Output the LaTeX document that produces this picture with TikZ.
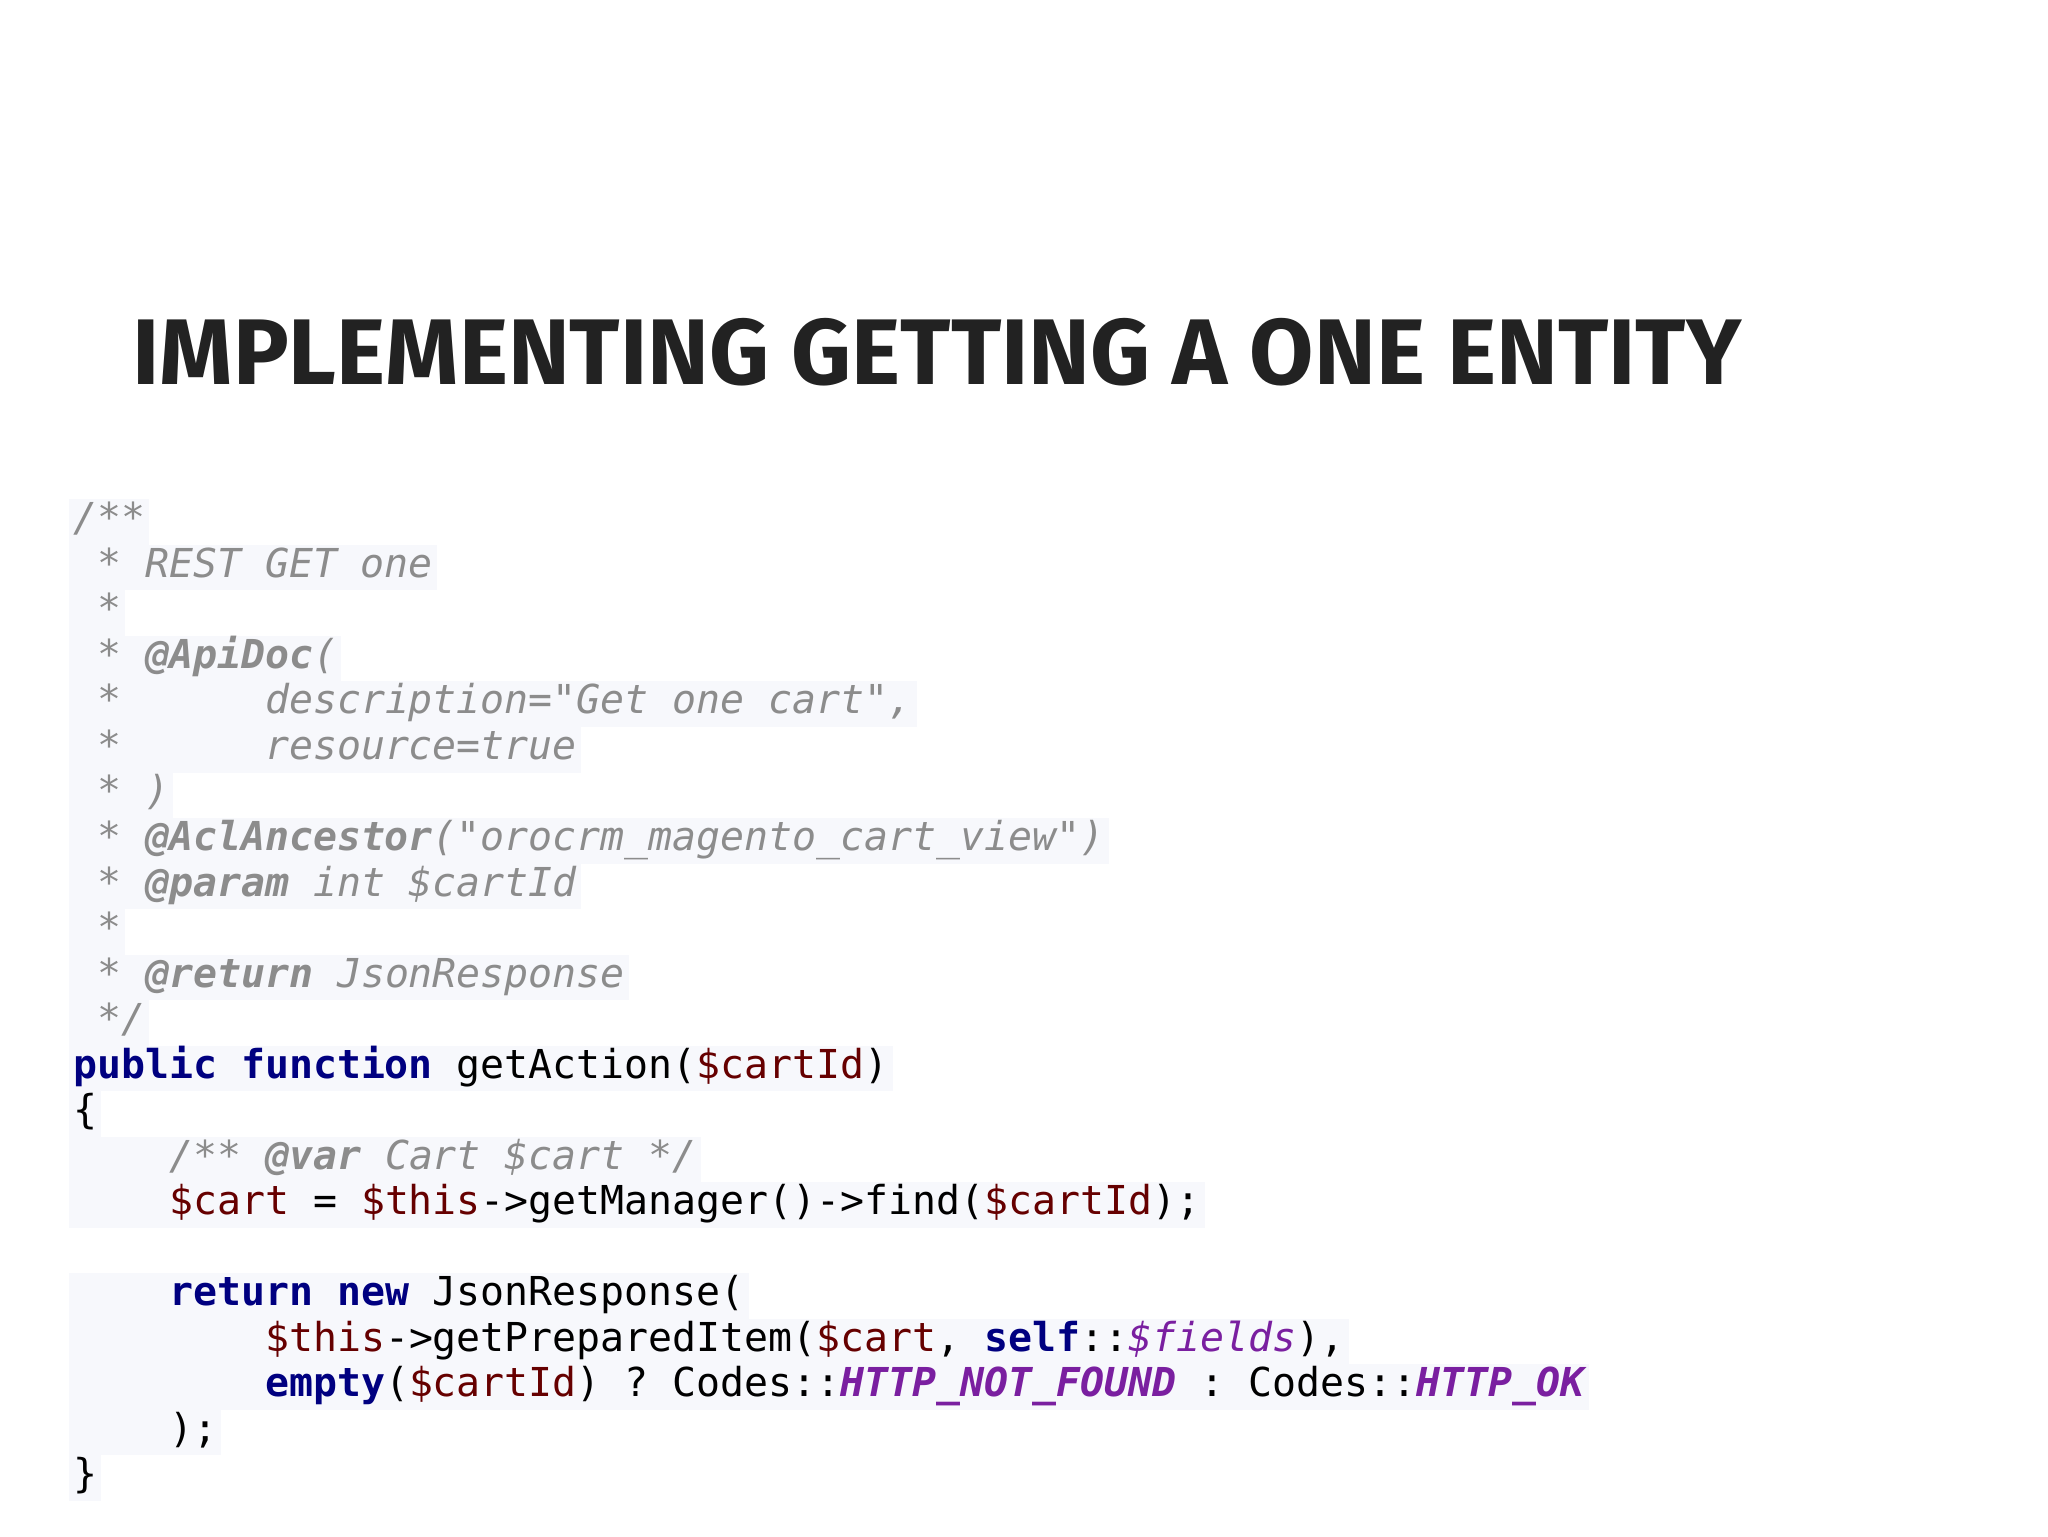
\documentclass[tikz,border=0pt]{standalone}
\usepackage{fontspec}
\setmonofont{DejaVu Sans Mono}
\newfontfamily\titlefont{Fira Sans}
\usetikzlibrary{positioning}
\definecolor{codebg}{HTML}{F7F8FC}
\definecolor{cmt}{HTML}{8C8C8C}
\definecolor{kw}{HTML}{000080}
\definecolor{var}{HTML}{660000}
\definecolor{cst}{HTML}{7A1FA0}
\definecolor{ttl}{HTML}{222222}
\newcommand\Cm[1]{\textcolor{cmt}{\itshape #1}}
\newcommand\Ct[1]{\textcolor{cmt}{\bfseries\itshape #1}}
\newcommand\Kw[1]{\textcolor{kw}{\bfseries #1}}
\newcommand\Vr[1]{\textcolor{var}{#1}}
\newcommand\Cs[1]{\textcolor{cst}{\bfseries\itshape #1}}
\newcommand\Fi[1]{\textcolor{cst}{\itshape #1}}
\newcommand\Sp[1]{\phantom{#1}}
\begin{document}
\begin{tikzpicture}[x=0.5pt,y=-0.5pt,
  codeline/.style={anchor=base west,fill=codebg,inner xsep=1.5pt,inner ysep=0pt,
    text height=12.3pt,text depth=4.95pt,font=\ttfamily\fontsize{15.1pt}{17pt}\selectfont}]
\useasboundingbox[fill=white] (0,0) rectangle (1552,1164);
\node[anchor=base west,inner sep=0pt,text=ttl] (title) at (100,291)
  {\resizebox{609.5pt}{!}{\titlefont\bfseries IMPLEMENTING GETTING A ONE ENTITY}};
\def\p{34.5}
\def\b{403}
\node[codeline] (l1) at (52,\b) {\Cm{/**}\hspace{3pt}};
\node[codeline] (l2) at (52,\b+\p) {\Cm{\Sp{x}* REST GET one}\hspace{3pt}};
\node[codeline] (l3) at (52,\b+2*\p) {\Cm{\Sp{x}*}\hspace{3pt}};
\node[codeline] (l4) at (52,\b+3*\p) {\Cm{\Sp{x}* }\Ct{@ApiDoc}\Cm{(}\hspace{3pt}};
\node[codeline] (l5) at (52,\b+4*\p) {\Cm{\Sp{x}*\Sp{xxxxxx}description="Get one cart",}\hspace{3pt}};
\node[codeline] (l6) at (52,\b+5*\p) {\Cm{\Sp{x}*\Sp{xxxxxx}resource=true}\hspace{3pt}};
\node[codeline] (l7) at (52,\b+6*\p) {\Cm{\Sp{x}* )}\hspace{3pt}};
\node[codeline] (l8) at (52,\b+7*\p) {\Cm{\Sp{x}* }\Ct{@AclAncestor}\Cm{("orocrm\_magento\_cart\_view")}\hspace{3pt}};
\node[codeline] (l9) at (52,\b+8*\p) {\Cm{\Sp{x}* }\Ct{@param}\Cm{ int \$cartId}\hspace{3pt}};
\node[codeline] (l10) at (52,\b+9*\p) {\Cm{\Sp{x}*}\hspace{3pt}};
\node[codeline] (l11) at (52,\b+10*\p) {\Cm{\Sp{x}* }\Ct{@return}\Cm{ JsonResponse}\hspace{3pt}};
\node[codeline] (l12) at (52,\b+11*\p) {\Cm{\Sp{x}*/}\hspace{3pt}};
\node[codeline] (l13) at (52,\b+12*\p) {\Kw{public} \Kw{function} getAction(\Vr{\$cartId})\hspace{3pt}};
\node[codeline] (l14) at (52,\b+13*\p) {\{\hspace{3pt}};
\node[codeline] (l15) at (52,\b+14*\p) {\Sp{xxxx}\Cm{/** }\Ct{@var}\Cm{ Cart \$cart */}\hspace{3pt}};
\node[codeline] (l16) at (52,\b+15*\p) {\Sp{xxxx}\Vr{\$cart} = \Vr{\$this}->getManager()->find(\Vr{\$cartId});\hspace{3pt}};
\node[codeline] (l18) at (52,\b+17*\p) {\Sp{xxxx}\Kw{return} \Kw{new} JsonResponse(\hspace{3pt}};
\node[codeline] (l19) at (52,\b+18*\p) {\Sp{xxxxxxxx}\Vr{\$this}->getPreparedItem(\Vr{\$cart}, \Kw{self}::\Fi{\$fields}),\hspace{3pt}};
\node[codeline] (l20) at (52,\b+19*\p) {\Sp{xxxxxxxx}\Kw{empty}(\Vr{\$cartId}) ? Codes::\Cs{HTTP\_NOT\_FOUND} : Codes::\Cs{HTTP\_OK}\hspace{3pt}};
\node[codeline] (l21) at (52,\b+20*\p) {\Sp{xxxx});\hspace{3pt}};
\node[codeline] (l22) at (52,\b+21*\p) {\}\hspace{3pt}};
\end{tikzpicture}
\end{document}
